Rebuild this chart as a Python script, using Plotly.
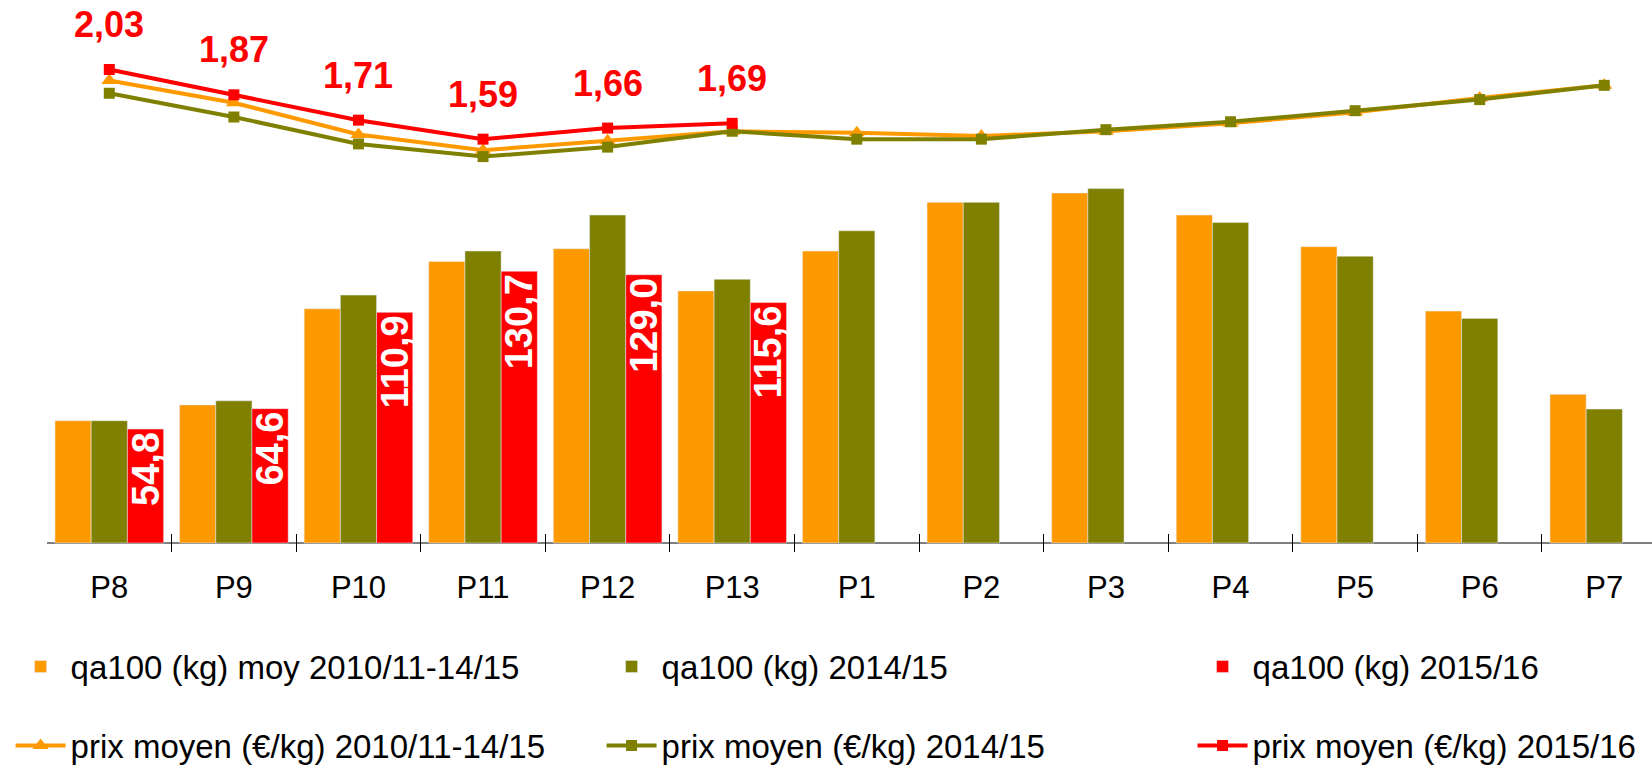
import plotly.graph_objects as go

categories = ["P8", "P9", "P10", "P11", "P12", "P13", "P1", "P2", "P3", "P4", "P5", "P6", "P7"]
qa_moy = [58.8, 66.4, 112.6, 135.4, 141.5, 121.2, 140.4, 163.8, 168.3, 157.7, 142.5, 111.5, 71.5]
qa_1415 = [58.8, 68.4, 119.2, 140.4, 157.7, 126.8, 150.1, 163.8, 170.4, 154.1, 137.9, 108.0, 64.4]
qa_1516 = [54.8, 64.6, 110.9, 130.7, 129.0, 115.6]
prix_moy = [1.96, 1.82, 1.62, 1.52, 1.58, 1.64, 1.63, 1.61, 1.64, 1.69, 1.76, 1.85, 1.93]
prix_1415 = [1.88, 1.73, 1.56, 1.48, 1.54, 1.64, 1.59, 1.59, 1.65, 1.70, 1.77, 1.84, 1.93]
prix_1516 = [2.03, 1.87, 1.71, 1.59, 1.66, 1.69]

names_bar = ["qa100 (kg) moy 2010/11-14/15", "qa100 (kg) 2014/15", "qa100 (kg) 2015/16"]
names_line = ["prix moyen (€/kg) 2010/11-14/15", "prix moyen (€/kg) 2014/15", "prix moyen (€/kg) 2015/16"]

ORANGE = "#FF9900"
OLIVE = "#808000"
RED = "#FF0000"
FONT = "Liberation Sans, Arial, sans-serif"

def fr(v, d):
    return f"{v:.{d}f}".replace(".", ",")

fig = go.Figure()
fig.add_trace(go.Bar(x=categories, y=qa_moy, name=names_bar[0], marker_color=ORANGE,
                     legend="legend"))
fig.add_trace(go.Bar(x=categories, y=qa_1415, name=names_bar[1], marker_color=OLIVE,
                     legend="legend"))
fig.add_trace(go.Bar(x=categories[:len(qa_1516)], y=qa_1516, name=names_bar[2], marker_color=RED,
                     text=[fr(v, 1) for v in qa_1516], textposition="inside",
                     insidetextanchor="end", textangle=-90, constraintext="none",
                     textfont=dict(color="white", size=38, family=FONT, weight="bold"),
                     legend="legend", legendwidth=395))

fig.add_trace(go.Scatter(x=categories, y=prix_moy, name=names_line[0], yaxis="y2", mode="lines+markers",
                         line=dict(color=ORANGE, width=4),
                         marker=dict(symbol="triangle-up", size=14, color=ORANGE),
                         legend="legend2"))
fig.add_trace(go.Scatter(x=categories, y=prix_1415, name=names_line[1], yaxis="y2", mode="lines+markers",
                         line=dict(color=OLIVE, width=4),
                         marker=dict(symbol="square", size=11, color=OLIVE),
                         legend="legend2"))
fig.add_trace(go.Scatter(x=categories[:len(prix_1516)], y=prix_1516, name=names_line[2], yaxis="y2",
                         mode="lines+markers",
                         line=dict(color=RED, width=4),
                         marker=dict(symbol="square", size=11, color=RED),
                         legend="legend2", legendwidth=395))

annotations = []
for c, v in zip(categories, prix_1516):
    annotations.append(dict(x=c, y=v, xref="x", yref="y2", text=fr(v, 2), showarrow=False,
                            yshift=45, font=dict(color=RED, size=36, family=FONT, weight="bold")))

legend_common = dict(orientation="h", xanchor="left", x=-0.0227, yanchor="middle",
                     font=dict(size=33, family=FONT, color="black"), itemwidth=50,
                     entrywidth=526, entrywidthmode="pixels", bgcolor="rgba(0,0,0,0)",
                     traceorder="normal")

fig.update_layout(
    width=1652, height=766,
    margin=dict(l=47.4, r=0, t=0, b=214.4, autoexpand=False),
    paper_bgcolor="white", plot_bgcolor="white",
    font=dict(family=FONT, color="black"),
    barmode="group", bargap=0.128, bargroupgap=0,
    xaxis=dict(type="category", categoryorder="array", categoryarray=categories,
               range=[-0.5, 12.383], ticks="inside", ticklen=18, tickson="boundaries",
               tickcolor="black", tickwidth=1, showline=False, showgrid=False,
               tickfont=dict(size=31, family=FONT, color="black"), ticklabelstandoff=14),
    yaxis=dict(range=[-4.33, 261.1], showticklabels=False, showgrid=False, ticks="",
               zeroline=True, zerolinecolor="#808080", zerolinewidth=2, fixedrange=True),
    yaxis2=dict(range=[-1.0174, 2.469], overlaying="y", visible=False, showgrid=False,
                zeroline=False),
    legend=dict(legend_common, y=-0.2074),
    legend2=dict(legend_common, y=-0.3506),
    annotations=annotations,
    showlegend=True,
)

fig.write_html("out.html", config={"displayModeBar": False},
               post_script="document.body.style.margin='0';document.body.style.overflow='hidden';")
